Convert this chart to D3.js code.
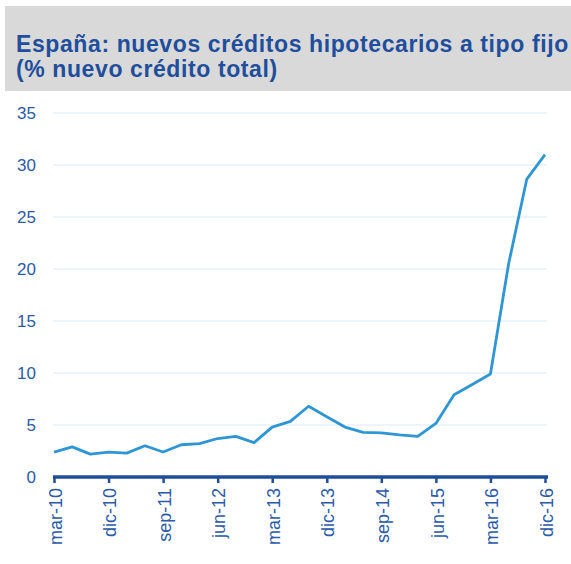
<!DOCTYPE html>
<html>
<head>
<meta charset="utf-8">
<script src="https://cdn.jsdelivr.net/npm/d3@7"></script>
<style>
  body { margin: 0; background: #fff; }
  svg { display: block; font-family: "Liberation Sans", Arial, sans-serif; }
</style>
</head>
<body>
<script>
//=SVG AREA=//
const width = 571;
const height = 564;
const margin = {top: 113, right: 26, bottom: 87, left: 54};

//==DATA==//
// quarterly, mar-10 .. dic-16
const quarters = [
  "mar-10","jun-10","sep-10","dic-10",
  "mar-11","jun-11","sep-11","dic-11",
  "mar-12","jun-12","sep-12","dic-12",
  "mar-13","jun-13","sep-13","dic-13",
  "mar-14","jun-14","sep-14","dic-14",
  "mar-15","jun-15","sep-15","dic-15",
  "mar-16","jun-16","sep-16","dic-16"
];
const fixedShare = [
  2.4, 2.9, 2.2, 2.4,
  2.3, 3.0, 2.4, 3.1,
  3.2, 3.7, 3.9, 3.3,
  4.8, 5.35, 6.8, 5.8,
  4.8, 4.3, 4.25, 4.05,
  3.9, 5.15, 7.9, 8.9,
  9.9, 20.5, 28.65, 31.0
];
const yTicks = [0, 5, 10, 15, 20, 25, 30, 35];
const xLabels = ["mar-10","dic-10","sep-11","jun-12","mar-13","dic-13","sep-14","jun-15","mar-16","dic-16"];
const titleLines = ["España: nuevos créditos hipotecarios a tipo fijo", "(% nuevo crédito total)"];

const svg = d3.select("body")
  .append("svg")
  .attr("width", width)
  .attr("height", height);

//==TITLE BOX==//
svg.append("rect")
  .attr("x", 5).attr("y", 6)
  .attr("width", width - 5).attr("height", 85)
  .attr("fill", "#d9d9d9");

svg.append("g")
  .selectAll("text")
  .data(titleLines)
  .enter()
  .append("text")
  .attr("x", 16)
  .attr("y", (d, i) => 52 + i * 25)
  .attr("fill", "#1f4e9c")
  .attr("font-size", "23px")
  .attr("font-weight", "bold")
  .attr("letter-spacing", "0.6px")
  .text(d => d);

//==SCALES==//
const x = d3.scalePoint()
  .domain(quarters)
  .range([margin.left, width - margin.right]);

const y = d3.scaleLinear()
  .domain([0, 35])
  .range([height - margin.bottom, margin.top]);

//==GRID==//
svg.append("g")
  .selectAll("line")
  .data(yTicks.filter(d => d > 0))
  .enter()
  .append("line")
  .attr("x1", margin.left - 1)
  .attr("x2", width - margin.right + 2)
  .attr("y1", d => y(d))
  .attr("y2", d => y(d))
  .attr("stroke", "#d8ebf6")
  .attr("stroke-width", 1);

//==Y AXIS (labels only)==//
const yAxis = d3.axisLeft(y)
  .tickValues(yTicks)
  .tickSize(0)
  .tickPadding(0);

svg.append("g")
  .attr("transform", "translate(36,0)")
  .call(yAxis)
  .call(g => g.select(".domain").remove())
  .selectAll("text")
  .attr("fill", "#2b5aa8")
  .attr("font-size", "17px")
  .attr("font-family", "Liberation Sans, Arial, sans-serif");

//==X AXIS==//
const xAxis = d3.axisBottom(x)
  .tickValues(xLabels)
  .tickSize(6)
  .tickSizeOuter(0)
  .tickPadding(4);

const gx = svg.append("g")
  .attr("transform", `translate(0,${y(0)})`)
  .call(xAxis);

gx.select(".domain")
  .attr("stroke", "#1f4e9c")
  .attr("stroke-width", 3.5)
  .attr("d", `M${margin.left - 1},0H${width - margin.right + 3}`);

gx.selectAll(".tick line")
  .attr("stroke", "#1f4e9c")
  .attr("stroke-width", 2.5);

gx.selectAll(".tick text")
  .attr("fill", "#2b5aa8")
  .attr("font-size", "18px")
  .attr("font-family", "Liberation Sans, Arial, sans-serif")
  .attr("transform", "rotate(-90)")
  .attr("text-anchor", "end")
  .attr("dy", "0.4em")
  .attr("x", -11)
  .attr("y", 0);

//==LINE==//
const line = d3.line()
  .x((d, i) => x(quarters[i]))
  .y(d => y(d));

svg.append("path")
  .datum(fixedShare)
  .attr("fill", "none")
  .attr("stroke", "#2e96d5")
  .attr("stroke-width", 2.8)
  .attr("stroke-linejoin", "round")
  .attr("d", line);
</script>
</body>
</html>
